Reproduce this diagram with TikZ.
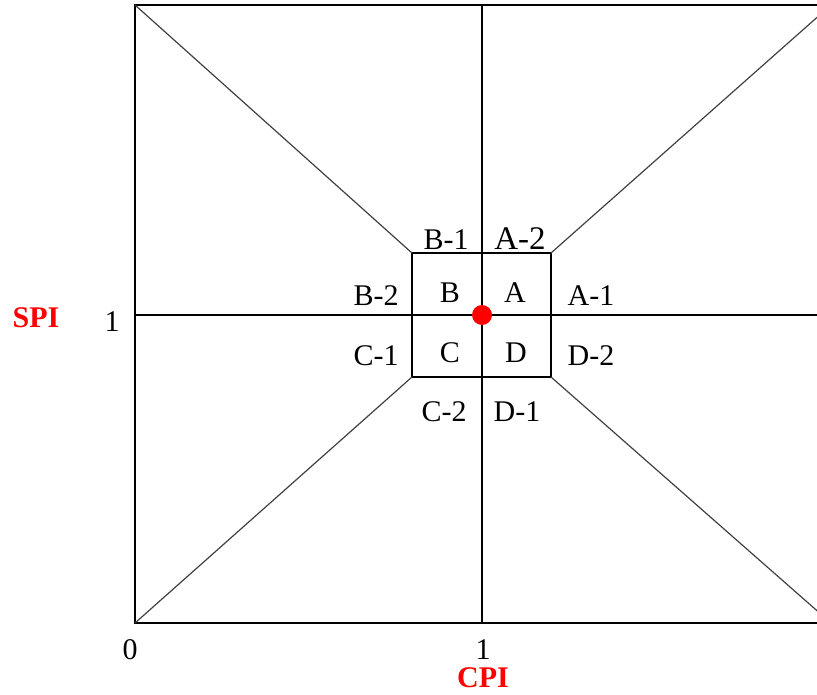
\documentclass[tikz,border=0pt]{standalone}
\usepackage{fontspec}
\setmainfont{Liberation Serif}
\begin{document}
\begin{tikzpicture}[x=1pt, y=-1pt, line width=1.4pt]
	% Stili
	\tikzset{etichetta/.style={font=\fontsize{30}{34}\selectfont, inner sep=0pt},
		asse/.style={font=\fontsize{30}{34}\selectfont\bfseries, text=red, inner sep=0pt},
		diagonale/.style={line width=1.2pt, black!75}}
	
	% Cornice della figura (il bordo destro esce dall'immagine)
	\useasboundingbox (0,0) rectangle (817,695);
	\clip (0,0) rectangle (817,695);
	
	% Vertici del rettangolo esterno
	\coordinate (NO) at (135,5);
	\coordinate (NE) at (831,5);
	\coordinate (SE) at (831,623);
	\coordinate (SO) at (135,623);
	
	% Vertici del quadrato interno
	\coordinate (no) at (412,253);
	\coordinate (ne) at (551,253);
	\coordinate (se) at (551,377);
	\coordinate (so) at (412,377);
	
	% Punti medi e centro
	\coordinate (alto) at (482,5);
	\coordinate (basso) at (482,623);
	\coordinate (sinistra) at (135,315);
	\coordinate (destra) at (831,315);
	\coordinate (centro) at (482,315);
	
	% Rettangoli e assi
	\draw (NO) rectangle (SE);
	\draw (no) rectangle (se);
	\draw (alto) -- (basso);
	\draw (sinistra) -- (destra);
	
	% Diagonali
	\draw[diagonale] (NO) -- (no);
	\draw[diagonale] (NE) -- (ne);
	\draw[diagonale] (SE) -- (se);
	\draw[diagonale] (SO) -- (so);
	
	% Punto centrale
	\fill[red] (centro) circle (10);
	
	% Quadranti
	\node[etichetta] (A) at (515,293) {A};
	\node[etichetta] (B) at (450,293) {B};
	\node[etichetta] (C) at (450,353) {C};
	\node[etichetta] (D) at (516,353) {D};
	
	% Regioni esterne
	\node[etichetta] (A1) at (591,296) {A-1};
	\node[etichetta, font=\fontsize{33}{36}\selectfont] (A2) at (520,239) {A-2};
	\node[etichetta] (B1) at (446,240) {B-1};
	\node[etichetta] (B2) at (376,296) {B-2};
	\node[etichetta] (C1) at (376,356) {C-1};
	\node[etichetta] (C2) at (444,412) {C-2};
	\node[etichetta] (D1) at (517,412) {D-1};
	\node[etichetta] (D2) at (591,356) {D-2};
	
	% Valori sugli assi
	\node[etichetta] (zero) at (130,650) {0};
	\node[etichetta] (unoX) at (483,650) {1};
	\node[etichetta] (unoY) at (112,322) {1};
	\node[asse] (CPI) at (483,678) {CPI};
	\node[asse] (SPI) at (36,318) {SPI};
\end{tikzpicture}
\end{document}
